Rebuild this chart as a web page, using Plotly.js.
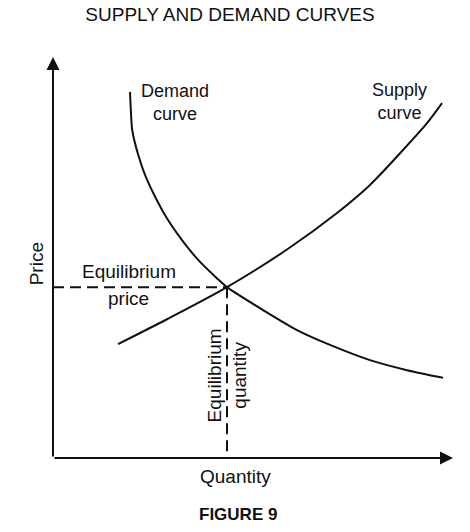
<!DOCTYPE html>
<html>
<head>
<meta charset="utf-8">
<script src="https://cdn.plot.ly/plotly-3.0.1.min.js"></script>
<style>html,body{margin:0;padding:0;background:#fff;}#chart{width:470px;height:532px;}</style>
</head>
<body>
<div id="chart"></div>
<script>
// Demand curve (quantity, price)
const demandQuantity = [19.25, 19.5, 19.8, 21.3, 23.0, 25.5, 28.4, 32.2, 36.3, 40.9, 43.5, 52.5, 61, 69.25, 79.25, 88.5, 97.5];
const demandPrice    = [91.3, 86.0, 81.8, 75.6, 70.6, 65.2, 59.9, 54.4, 49.4, 44.9, 42.6, 36.9, 31.9, 28.2, 24.4, 21.9, 20.0];
// Supply curve (quantity, price)
const supplyQuantity = [16.25, 28.5, 43.5, 58.5, 71, 79.25, 87.5, 93.5, 97.25];
const supplyPrice    = [28.4, 34.6, 42.6, 52.0, 61.1, 68.1, 76.8, 83.5, 88.5];
// Equilibrium
const eqQuantity = 43.5;
const eqPrice = 42.6;

const font = "Liberation Sans, Arial, Helvetica, sans-serif";
const black = "#111";

const traces = [
  {x: demandQuantity, y: demandPrice, mode: "lines", line: {color: black, width: 2, shape: "spline", smoothing: 0.8}, cliponaxis: false, hoverinfo: "skip"},
  {x: supplyQuantity, y: supplyPrice, mode: "lines", line: {color: black, width: 2, shape: "spline", smoothing: 0.8}, cliponaxis: false, hoverinfo: "skip"},
  {x: [0, eqQuantity], y: [eqPrice, eqPrice], mode: "lines", line: {color: black, width: 2, dash: "11px,6px"}, cliponaxis: false, hoverinfo: "skip"},
  {x: [eqQuantity, eqQuantity], y: [eqPrice, 0], mode: "lines", line: {color: black, width: 2, dash: "11px,6px"}, cliponaxis: false, hoverinfo: "skip"}
];

const lab = (text, x, y, extra) => Object.assign({
  text: text, x: x, y: y, xref: "x", yref: "y", showarrow: false,
  xanchor: "center", yanchor: "middle", font: {family: font, size: 19, color: black}
}, extra || {});

const layout = {
  width: 470, height: 532,
  margin: {l: 53, r: 17, t: 57, b: 74},
  paper_bgcolor: "#fff", plot_bgcolor: "#fff",
  showlegend: false,
  title: {text: "SUPPLY AND DEMAND CURVES", x: 230/470, xanchor: "center", y: 1 - 14.5/532, yanchor: "middle", yref: "container",
          font: {family: font, size: 19, color: black}},
  xaxis: {range: [0, 100], showgrid: false, zeroline: false, showline: false, showticklabels: false, ticks: "", fixedrange: true},
  yaxis: {range: [0, 100], showgrid: false, zeroline: false, showline: false, showticklabels: false, ticks: "", fixedrange: true},
  annotations: [
    // axes with arrowheads
    {x: 100, y: 0, ax: 0, ay: 0, xref: "x", yref: "y", axref: "x", ayref: "y", showarrow: true, text: "",
     arrowhead: 2, arrowsize: 1.3, arrowwidth: 2, arrowcolor: black},
    {x: 0, y: 100, ax: 0, ay: 0, xref: "x", yref: "y", axref: "x", ayref: "y", showarrow: true, text: "",
     arrowhead: 2, arrowsize: 1.3, arrowwidth: 2, arrowcolor: black},
    lab("Demand<br>curve", 30.5, 88.6, {font: {family: font, size: 18, color: black}}),
    lab("Supply<br>curve", 86.5, 89.0, {font: {family: font, size: 18, color: black}}),
    lab("Equilibrium", 18.9, 46.6),
    lab("price", 18.9, 39.8),
    lab("Equilibrium<br>quantity", 43.6, 20.7, {textangle: -90}),
    lab("Price", -0.0425, 0.483, {textangle: -90, xref: "paper", yref: "paper"}),
    lab("Quantity", 0.455, -0.045, {xref: "paper", yref: "paper"}),
    {text: "<b>FIGURE 9</b>", x: 0.4625, y: -0.142, xref: "paper", yref: "paper", showarrow: false,
     xanchor: "center", yanchor: "middle", font: {family: font, size: 17, color: black}}
  ]
};

Plotly.newPlot("chart", traces, layout, {displayModeBar: false, staticPlot: true});
</script>
</body>
</html>
